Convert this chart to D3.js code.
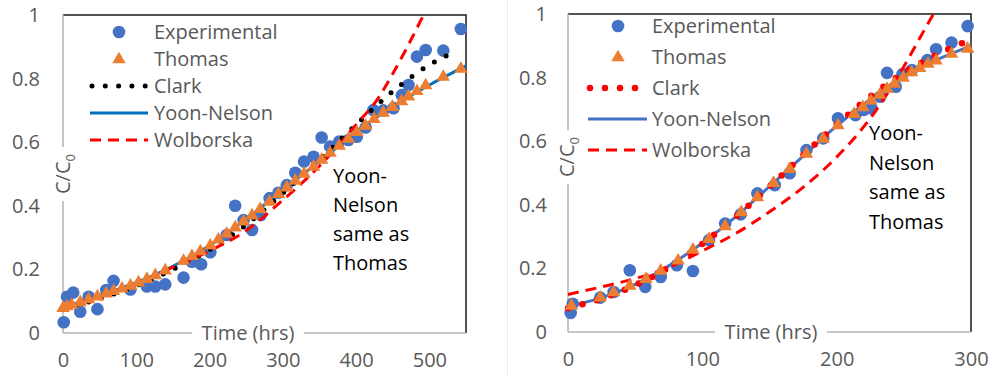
<!DOCTYPE html>
<html>
<head>
<meta charset="utf-8">
<script src="https://cdn.jsdelivr.net/npm/d3@7"></script>
<style>
  body { margin: 0; background: #fff; }
  svg text { font-family: "Open Sans", Lato, sans-serif; }
</style>
</head>
<body>
<svg id="chart" width="990" height="377"></svg>
<script>
// ---- left panel data (0 - 550 hrs) ----
var leftExpT = [1, 5.5, 14, 23.5, 35, 47, 59, 69, 92, 114.5, 126, 139.5, 164.5, 176, 188.5, 201, 223.5, 235, 246.5, 258, 270, 282, 294, 305.5, 317, 329, 342, 353, 364.5, 377, 389.5, 401, 413, 423.5, 437, 451, 462.5, 471.5, 483, 495, 519, 543]
var leftExpV = [0.034, 0.114, 0.127, 0.067, 0.114, 0.075, 0.135, 0.164, 0.137, 0.146, 0.146, 0.153, 0.174, 0.224, 0.216, 0.254, 0.308, 0.40, 0.355, 0.324, 0.371, 0.424, 0.441, 0.465, 0.504, 0.539, 0.554, 0.615, 0.586, 0.602, 0.607, 0.617, 0.646, 0.701, 0.70, 0.707, 0.748, 0.78, 0.869, 0.89, 0.888, 0.956]
var leftThomasT = [0, 5.5, 12, 23.5, 35, 47, 59, 69, 80.5, 92, 103, 114.5, 126, 139.5, 164.5, 176, 187.5, 201, 212, 223.5, 235, 246.5, 258, 269, 282, 294, 305.5, 317, 329, 342, 353, 364.5, 377, 389.5, 401, 413, 424.5, 437, 449.5, 462, 471.5, 483, 495, 519, 543]
var leftThomasV = [0.08, 0.085, 0.09, 0.098, 0.107, 0.116, 0.125, 0.133, 0.141, 0.15, 0.16, 0.171, 0.183, 0.198, 0.228, 0.243, 0.258, 0.276, 0.295, 0.313, 0.333, 0.352, 0.371, 0.391, 0.414, 0.438, 0.459, 0.48, 0.502, 0.524, 0.546, 0.568, 0.59, 0.612, 0.633, 0.653, 0.674, 0.694, 0.712, 0.73, 0.745, 0.762, 0.78, 0.807, 0.832]
var leftClarkT = [0, 50, 100, 150, 200, 250, 300, 350, 400, 450, 500, 535]
var leftClarkV = [0.075, 0.108, 0.148, 0.2, 0.262, 0.34, 0.44, 0.545, 0.655, 0.76, 0.843, 0.885]
var leftYoonT = [0, 50, 100, 150, 200, 250, 300, 350, 400, 450, 500, 550]
var leftYoonV = [0.08, 0.118, 0.158, 0.21, 0.275, 0.358, 0.45, 0.54, 0.632, 0.712, 0.78, 0.84]
var leftWolT = [0, 50, 100, 150, 200, 250, 300, 350, 400, 430, 450, 470, 492]
var leftWolV = [0.08, 0.115, 0.155, 0.207, 0.258, 0.322, 0.418, 0.525, 0.655, 0.738, 0.815, 0.9, 1.0]

// ---- right panel data (0 - 300 hrs) ----
var rightExpT = [2, 3.5, 24, 34, 46, 57.5, 69, 81, 93, 105, 117, 128.5, 141, 154, 165, 177.5, 190, 201, 214, 220, 226, 232.5, 237.5, 244, 249, 256, 267.5, 274, 285.5, 297.5]
var rightExpV = [0.06, 0.089, 0.108, 0.126, 0.194, 0.142, 0.173, 0.21, 0.192, 0.289, 0.341, 0.37, 0.436, 0.462, 0.499, 0.572, 0.609, 0.672, 0.682, 0.698, 0.703, 0.74, 0.815, 0.771, 0.811, 0.824, 0.855, 0.889, 0.91, 0.962]
var rightThomasT = [2.5, 24, 34, 46, 58, 69, 82, 93, 105, 117, 129, 141, 153, 165, 177.5, 190, 201, 213, 219.5, 225.5, 232, 237.5, 243, 249.5, 255.8, 261.8, 268, 274, 285.5, 297.5]
var rightThomasV = [0.084, 0.11, 0.126, 0.147, 0.168, 0.194, 0.226, 0.26, 0.294, 0.334, 0.378, 0.425, 0.47, 0.514, 0.562, 0.609, 0.651, 0.687, 0.708, 0.729, 0.747, 0.766, 0.782, 0.801, 0.818, 0.831, 0.845, 0.855, 0.876, 0.892]
var rightClarkT = [0, 25, 50, 75, 100, 125, 150, 175, 200, 225, 250, 275, 300]
var rightClarkV = [0.075, 0.105, 0.147, 0.203, 0.277, 0.362, 0.457, 0.556, 0.652, 0.74, 0.815, 0.873, 0.92]
var rightYoonT = [0, 25, 50, 75, 100, 125, 150, 175, 200, 225, 250, 275, 300]
var rightYoonV = [0.08, 0.108, 0.15, 0.208, 0.28, 0.363, 0.458, 0.553, 0.648, 0.732, 0.805, 0.857, 0.9]
var rightWolT = [0, 25, 50, 75, 100, 125, 150, 175, 200, 225, 250, 262, 272]
var rightWolV = [0.118, 0.142, 0.168, 0.203, 0.255, 0.31, 0.378, 0.455, 0.55, 0.672, 0.835, 0.925, 1.0]

var legendNames = ['Experimental', 'Thomas', 'Clark', 'Yoon-Nelson', 'Wolborska']
var noteLines = ['Yoon-', 'Nelson', 'same as', 'Thomas']
var yTicks = [0, 0.2, 0.4, 0.6, 0.8, 1]
var leftXTicks = [0, 100, 200, 300, 400, 500]
var rightXTicks = [0, 100, 200, 300]

function zip(t, v) {
  return t.map(function (d, i) { return [d, v[i]] })
}

var svg = d3.select('#chart')

// faint border of the second picture
svg.append('line').attr('x1', 507.5).attr('x2', 507.5).attr('y1', 0).attr('y2', 377)
  .attr('stroke', '#ececec').attr('stroke-width', 1)

function drawPanel(p) {
  var g = svg.append('g')
  var x = d3.scaleLinear().domain([0, p.xMax]).range([p.left, p.right])
  var y = d3.scaleLinear().domain([0, 1]).range([p.bottom, p.top])

  // frame: dark top / right, gray left / bottom axes
  g.append('path')
    .attr('d', `M${p.left},${p.top}H${p.right}V${p.bottom}`)
    .attr('fill', 'none').attr('stroke', '#1a1a1a').attr('stroke-width', 1.5)
  g.append('line').attr('x1', p.left).attr('x2', p.left).attr('y1', p.top).attr('y2', p.bottom)
    .attr('stroke', '#b3b3b3').attr('stroke-width', 1.5)
  g.append('line').attr('x1', p.left).attr('x2', p.right).attr('y1', p.bottom).attr('y2', p.bottom)
    .attr('stroke', '#b3b3b3').attr('stroke-width', 1.5)

  g.append('g').attr('transform', `translate(${p.left},0)`)
    .call(d3.axisLeft(y).tickValues(yTicks).tickSize(0).tickPadding(p.yPad).tickFormat(d3.format('~g')))
  g.append('g').attr('transform', `translate(0,${p.bottom})`)
    .call(d3.axisBottom(x).tickValues(p.xTicks).tickSize(0).tickPadding(20))
  g.selectAll('.domain').remove()
  g.selectAll('.tick text').attr('font-size', 20).attr('fill', '#595959')
    .attr('font-family', '"Open Sans", Lato, sans-serif')

  // axis titles sit on the axis lines with a white box
  g.append('rect').attr('x', p.yTitleX - 20).attr('y', p.yTitleY - 27)
    .attr('width', 36).attr('height', 54).attr('fill', '#fff')
  var yt = g.append('text')
    .attr('transform', `translate(${p.yTitleX + 7},${p.yTitleY}) rotate(-90)`)
    .attr('text-anchor', 'middle').attr('font-size', 20).attr('fill', '#595959')
  yt.append('tspan').text('C/C')
  yt.append('tspan').attr('font-size', 13).attr('dy', 5).text('0')

  g.append('rect').attr('x', p.xTitleX - 56).attr('y', p.bottom - 10)
    .attr('width', 112).attr('height', 20).attr('fill', '#fff')
  g.append('text').attr('x', p.xTitleX).attr('y', p.bottom + 7)
    .attr('text-anchor', 'middle').attr('font-size', 20).attr('fill', '#595959')
    .text('Time (hrs)')

  var line = d3.line()
    .x(function (d) { return x(d[0]) })
    .y(function (d) { return y(d[1]) })
    .curve(d3.curveMonotoneX)

  // experimental points
  g.append('g').selectAll('circle')
    .data(zip(p.expT, p.expV))
    .enter().append('circle')
    .attr('cx', function (d) { return x(d[0]) })
    .attr('cy', function (d) { return y(d[1]) })
    .attr('r', 6.3)
    .attr('fill', '#4472C4')

  // model lines
  g.append('path').datum(zip(p.yoonT, p.yoonV)).attr('d', line)
    .attr('fill', 'none').attr('stroke', p.yoonColor).attr('stroke-width', 3)
  g.append('path').datum(zip(p.clarkT, p.clarkV)).attr('d', line)
    .attr('fill', 'none').attr('stroke', p.clarkColor).attr('stroke-width', p.clarkW)
    .attr('stroke-linecap', 'round').attr('stroke-dasharray', p.clarkDash)
  g.append('path').datum(zip(p.wolT, p.wolV)).attr('d', line)
    .attr('fill', 'none').attr('stroke', '#FF0000').attr('stroke-width', 3)
    .attr('stroke-dasharray', '11 7')

  // thomas triangles
  var tri = d3.symbol().type(d3.symbolTriangle).size(78)
  g.append('g').selectAll('path')
    .data(zip(p.thomasT, p.thomasV))
    .enter().append('path')
    .attr('d', tri)
    .attr('transform', function (d) { return `translate(${x(d[0])},${y(d[1]) + 0.5})` })
    .attr('fill', '#ED7D31')

  // legend
  var lg = g.append('g')
  legendNames.forEach(function (name, i) {
    var ry = p.legY + i * p.legStep
    if (i === 0) {
      lg.append('circle').attr('cx', p.legMark).attr('cy', ry).attr('r', 6.3).attr('fill', '#4472C4')
    } else if (i === 1) {
      lg.append('path').attr('d', tri).attr('transform', `translate(${p.legMark},${ry + 0.5})`).attr('fill', '#ED7D31')
    } else if (i === 2) {
      lg.append('line').attr('x1', p.legL0 + 2).attr('x2', p.legL1).attr('y1', ry).attr('y2', ry)
        .attr('stroke', p.clarkColor).attr('stroke-width', p.clarkW)
        .attr('stroke-linecap', 'round').attr('stroke-dasharray', p.clarkDash)
    } else if (i === 3) {
      lg.append('line').attr('x1', p.legL0).attr('x2', p.legL1).attr('y1', ry).attr('y2', ry)
        .attr('stroke', p.yoonColor).attr('stroke-width', 3)
    } else {
      lg.append('line').attr('x1', p.legL0).attr('x2', p.legL1).attr('y1', ry).attr('y2', ry)
        .attr('stroke', '#FF0000').attr('stroke-width', 3).attr('stroke-dasharray', '11 7')
    }
    lg.append('text').attr('x', p.legText).attr('y', ry).attr('dy', '0.35em')
      .attr('font-size', 20).attr('fill', '#595959').text(name)
  })

  // note
  noteLines.forEach(function (s, i) {
    g.append('text').attr('x', p.noteX).attr('y', p.noteY + i * p.noteStep).attr('dy', '0.35em')
      .attr('font-size', 20).attr('fill', '#000').text(s)
  })
}

drawPanel({
  left: 63, right: 466, top: 15, bottom: 333, xMax: 550, xTicks: leftXTicks, yPad: 23,
  yTitleX: 63, yTitleY: 174, xTitleX: 248,
  expT: leftExpT, expV: leftExpV, thomasT: leftThomasT, thomasV: leftThomasV,
  clarkT: leftClarkT, clarkV: leftClarkV, yoonT: leftYoonT, yoonV: leftYoonV,
  wolT: leftWolT, wolV: leftWolV,
  yoonColor: '#0070C0', clarkColor: '#000', clarkW: 5, clarkDash: '0 13.3',
  legY: 32, legStep: 27, legMark: 119, legText: 154, legL0: 90, legL1: 148,
  noteX: 333, noteY: 176, noteStep: 29
})

drawPanel({
  left: 568, right: 971, top: 14, bottom: 332, xMax: 300, xTicks: rightXTicks, yPad: 21,
  yTitleX: 567, yTitleY: 157, xTitleX: 771,
  expT: rightExpT, expV: rightExpV, thomasT: rightThomasT, thomasV: rightThomasV,
  clarkT: rightClarkT, clarkV: rightClarkV, yoonT: rightYoonT, yoonV: rightYoonV,
  wolT: rightWolT, wolV: rightWolV,
  yoonColor: '#4472C4', clarkColor: '#FF0000', clarkW: 6.5, clarkDash: '0 15',
  legY: 26, legStep: 31, legMark: 618, legText: 652, legL0: 588, legL1: 647,
  noteX: 869, noteY: 133, noteStep: 29.5
})
</script>
</body>
</html>
